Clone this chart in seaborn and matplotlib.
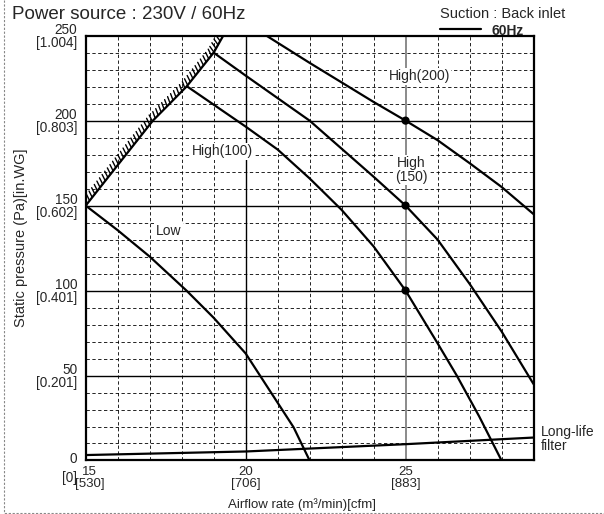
import matplotlib
matplotlib.use('Agg')
import matplotlib.pyplot as plt
import matplotlib.patheffects as pe
import matplotlib.transforms as mtransforms
from matplotlib.lines import Line2D
import seaborn as sns

# fan curves: airflow [m3/min] vs static pressure [Pa]
surge_x = [15.0, 17.1, 18.15, 19.0, 19.3]
surge_y = [150, 200, 220, 240, 250]

low_x = [15.0, 16.0, 17.0, 18.15, 19.0, 20.0, 21.0, 21.5, 22.0]
low_y = [150, 135.5, 120, 100, 84, 63, 34, 19.5, 0]

high100_x = [18.18, 20.0, 21.0, 22.0, 23.0, 24.0, 25.0, 26.0, 26.6, 27.3, 28.0]
high100_y = [220, 196.5, 183, 166, 147.5, 126, 100, 69, 50, 26, 0]

high150_x = [19.0, 20.0, 22.0, 24.0, 25.0, 26.0, 27.0, 28.0, 29.0]
high150_y = [240, 226.5, 200, 167, 150, 130, 104, 76, 45]

high200_x = [20.65, 22.0, 24.0, 25.0, 26.0, 27.0, 28.0, 29.0]
high200_y = [250, 234, 211, 200, 188.5, 175, 161, 145]

filter_x = [15.0, 20.0, 25.0, 29.0]
filter_y = [3.2, 5.3, 9.6, 13.5]

rated_x = [25, 25, 25]
rated_y = [200, 150, 100]

x_ticks = [15, 20, 25]
x_labels = ['15\n[530]', '20\n[706]', '25\n[883]']
y_ticks = [0, 50, 100, 150, 200, 250]
y_labels = ['0\n[0]', '50\n[0.201]', '100\n[0.401]', '150\n[0.602]',
            '200\n[0.803]', '250\n[1.004]']

sns.set_style('white')
plt.rcParams['font.family'] = ['Liberation Sans', 'DejaVu Sans']

fig = plt.figure(figsize=(6.04, 5.14), dpi=100)
ax = fig.add_axes([0.1419, 0.1041, 0.7414, 0.8265])
ax.set_xlim(15, 29)
ax.set_ylim(0, 250)

# grid: dotted minor, solid major
ax.set_xticks([v for v in range(16, 29) if v not in (20, 25)], minor=True)
ax.set_yticks([v for v in range(10, 250, 10) if v % 50], minor=True)
ax.grid(which='minor', color='black', linestyle=(0, (4, 3)), linewidth=0.6)
for v in [50, 100, 150, 200]:
    ax.axhline(v, color='black', linewidth=1.0, zorder=1)
ax.axvline(20, color='black', linewidth=1.0, zorder=1)
ax.axvline(25, color='#777777', linewidth=1.2, zorder=1)

ax.set_xticks(x_ticks)
ax.set_xticklabels(x_labels, fontsize=9.5, linespacing=1.0)
ax.set_yticks(y_ticks)
ax.set_yticklabels(y_labels, fontsize=9.8, linespacing=0.9)
ax.tick_params(which='both', length=0)
ax.tick_params(axis='x', pad=4)
ax.tick_params(axis='y', pad=6)
for s in ax.spines.values():
    s.set_linewidth(1.6)
    s.set_color('black')

# the corner labels sit a little apart, as in the original
lab15 = ax.get_xticklabels()[0]
lab15.set_transform(lab15.get_transform() +
                    mtransforms.ScaledTranslation(0.04, 0, fig.dpi_scale_trans))
lab0 = ax.get_yticklabels()[0]
lab0.set_linespacing(1.5)
lab0.set_transform(lab0.get_transform() +
                   mtransforms.ScaledTranslation(0, -0.04, fig.dpi_scale_trans))

curve_kw = dict(color='black', linewidth=1.6, sort=False, zorder=4, ax=ax)
sns.lineplot(x=surge_x, y=surge_y, **curve_kw)
ax.lines[-1].set_path_effects([pe.withTickedStroke(spacing=3.0, angle=65, length=1.7,
                                                   linewidth=1.0)])
sns.lineplot(x=low_x, y=low_y, **curve_kw)
sns.lineplot(x=high100_x, y=high100_y, **curve_kw)
sns.lineplot(x=high150_x, y=high150_y, **curve_kw)
sns.lineplot(x=high200_x, y=high200_y, **curve_kw)
sns.lineplot(x=filter_x, y=filter_y, **curve_kw)
sns.scatterplot(x=rated_x, y=rated_y, color='black', s=35, zorder=5, ax=ax,
                edgecolor='none')

box = dict(facecolor='white', edgecolor='none', pad=1)
ax.text(25.43, 226, 'High(200)', fontsize=10, ha='center', va='center', bbox=box, zorder=3)
ax.text(25.17, 171, 'High\n(150)', fontsize=10, ha='center', va='center',
        linespacing=0.95, bbox=box, zorder=3)
ax.text(19.28, 182, 'High(100)', fontsize=10, ha='center', va='center', bbox=box, zorder=3)
ax.text(17.6, 135, 'Low', fontsize=10, ha='center', va='center', bbox=box, zorder=3)
ax.text(29.23, 12.8, 'Long-life\nfilter', fontsize=10, ha='left', va='center',
        linespacing=1.0, clip_on=False)

ax.set_xlabel('')
ax.set_ylabel('')
fig.text(0.4995, 0.0175, 'Airflow rate (m³/min)[cfm]', fontsize=9.5, ha='center', va='center')
fig.text(0.0348, 0.538, 'Static pressure (Pa)[in.WG]', fontsize=10.5, ha='center',
         va='center', rotation=90)

fig.text(0.0192, 0.9715, 'Power source : 230V / 60Hz', fontsize=13.5, ha='left', va='center')
fig.text(0.7285, 0.9718, 'Suction : Back inlet', fontsize=10.5, ha='left', va='center')
fig.add_artist(Line2D([0.7285, 0.7964], [0.9436, 0.9436], color='black', linewidth=1.6))
fig.text(0.813, 0.9397, '60Hz', fontsize=10, fontweight='bold', ha='left', va='center')

# dotted frame (left and bottom)
fig.add_artist(Line2D([0.0058, 0.0058, 1.0], [1.0, 0.0029, 0.0029], color='#888888',
                      linewidth=0.8, linestyle=(0, (2, 1.5))))

fig.savefig('out.png', dpi=100)
